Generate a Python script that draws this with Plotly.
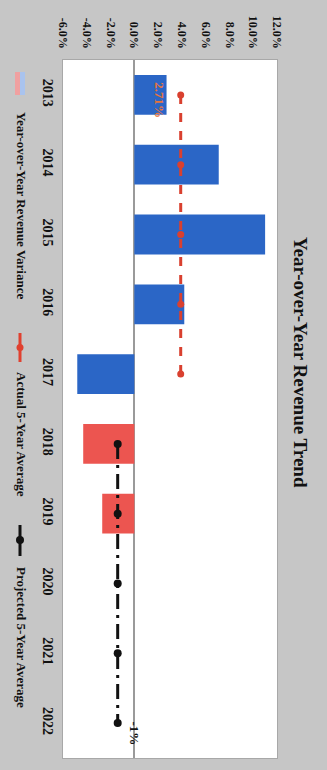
import plotly.graph_objects as go

# ---- data ----
years = ["2013", "2014", "2015", "2016", "2017", "2018", "2019", "2020", "2021", "2022"]
variance_years = ["2013", "2014", "2015", "2016", "2017", "2018", "2019"]
variance = [2.71, 7.1, 11.0, 4.2, -4.8, -4.3, -2.7]
bar_colors = ["#2b66c6", "#2b66c6", "#2b66c6", "#2b66c6", "#2b66c6", "#ec5550", "#ec5550"]
actual_years = ["2013", "2014", "2015", "2016", "2017"]
actual_avg = [3.9, 3.9, 3.9, 3.9, 3.9]
proj_years = ["2018", "2019", "2020", "2021", "2022"]
proj_avg = [-1.4, -1.4, -1.4, -1.4, -1.4]
x_ticks = [-6, -4, -2, 0, 2, 4, 6, 8, 10, 12]
title_text = "Year-over-Year Revenue Trend"
legend_names = ["Year-over-Year Revenue Variance", "Actual 5-Year Average", "Projected 5-Year Average"]

FONT = "Liberation Serif"
L, R, T, B = 63, 277, 60, 758
W, H = R - L, B - T


def px(x):
    return (x - L) / W


def py(y):
    return (B - y) / H


fig = go.Figure()
fig.add_trace(go.Bar(
    x=variance, y=variance_years, orientation="h",
    marker=dict(color=bar_colors, line=dict(width=0)),
    width=0.57, showlegend=False,
))
fig.add_trace(go.Scatter(
    x=actual_avg, y=actual_years, mode="lines+markers",
    line=dict(color="#d9402f", width=3, dash="dash"),
    marker=dict(color="#d9402f", size=7, symbol="circle"),
    showlegend=False,
))
fig.add_trace(go.Scatter(
    x=proj_avg, y=proj_years, mode="lines+markers",
    line=dict(color="#111111", width=3, dash="longdashdot"),
    marker=dict(color="#111111", size=8, symbol="circle"),
    showlegend=False,
))

annotations = []
# value label on first bar
annotations.append(dict(
    x=variance[0], y=years.index(variance_years[0]), xref="x", yref="y",
    text=f"{variance[0]:.2f}%", textangle=90, showarrow=False,
    xanchor="center", yanchor="middle", xshift=-7, yshift=-5,
    font=dict(family=FONT, size=13, color="#e8743b"),
))
# label at last projected point
annotations.append(dict(
    x=proj_avg[-1], y=years.index(proj_years[-1]), xref="x", yref="y",
    text=f"{proj_avg[-1]:.0f}%", textangle=90, showarrow=False,
    xanchor="center", yanchor="middle", xshift=17, yshift=-10,
    font=dict(family=FONT, size=13, color="#111111", weight="bold"),
))
# title (rotated)
annotations.append(dict(
    x=px(301), y=py(362), xref="paper", yref="paper",
    text=title_text, textangle=90, showarrow=False,
    xanchor="center", yanchor="middle",
    font=dict(family=FONT, size=19, color="#111111", weight="bold"),
))
# legend texts
legend_pos = [205, 434, 637]
for name, yc in zip(legend_names, legend_pos):
    annotations.append(dict(
        x=px(22), y=py(yc), xref="paper", yref="paper",
        text=name, textangle=90, showarrow=False,
        xanchor="center", yanchor="middle",
        font=dict(family=FONT, size=13, color="#111111", weight="bold"),
    ))

shapes = [
    dict(type="rect", xref="paper", yref="paper", x0=px(15), x1=px(20), y0=py(95), y1=py(72),
         fillcolor="#f0a0a0", line=dict(width=0)),
    dict(type="rect", xref="paper", yref="paper", x0=px(20), x1=px(25), y0=py(95), y1=py(72),
         fillcolor="#a9c3ee", line=dict(width=0)),
    dict(type="line", xref="paper", yref="paper", x0=px(20), x1=px(20), y0=py(362), y1=py(333),
         line=dict(color="#e0402f", width=3)),
    dict(type="circle", xref="paper", yref="paper", x0=px(16.5), x1=px(23.5), y0=py(351), y1=py(344),
         fillcolor="#e0402f", line=dict(width=0)),
    dict(type="line", xref="paper", yref="paper", x0=px(20), x1=px(20), y0=py(556), y1=py(525),
         line=dict(color="#111111", width=3)),
    dict(type="circle", xref="paper", yref="paper", x0=px(16), x1=px(24), y0=py(544), y1=py(536),
         fillcolor="#111111", line=dict(width=0)),
]

fig.update_layout(
    width=327, height=770,
    margin=dict(l=L, r=327 - R, t=T, b=770 - B, autoexpand=False),
    paper_bgcolor="#c6c6c6", plot_bgcolor="#ffffff",
    font=dict(family=FONT, size=12, color="#111111", weight="bold"),
    annotations=annotations, shapes=shapes,
    xaxis=dict(
        range=[-6, 12], side="top", tickvals=x_ticks,
        ticktext=[f"{v:.1f}%" for v in x_ticks], tickangle=90,
        showgrid=False, zeroline=True, zerolinecolor="#9a9a9a", zerolinewidth=1.5,
        showline=True, mirror=True, linecolor="#a8a8a8", linewidth=1,
        ticks="", ticklabelstandoff=6, tickfont=dict(size=12), automargin=False,
    ),
    yaxis=dict(
        type="category", categoryorder="array", categoryarray=years,
        range=[9.5, -0.5], tickangle=90, showgrid=False,
        showline=True, mirror=True, linecolor="#a8a8a8", linewidth=1,
        ticks="", ticklabelstandoff=2, tickfont=dict(size=14), automargin=False,
    ),
    bargap=0.43,
)

fig.write_html("out.html", config={"displayModeBar": False},
               post_script="document.body.style.margin='0';")
